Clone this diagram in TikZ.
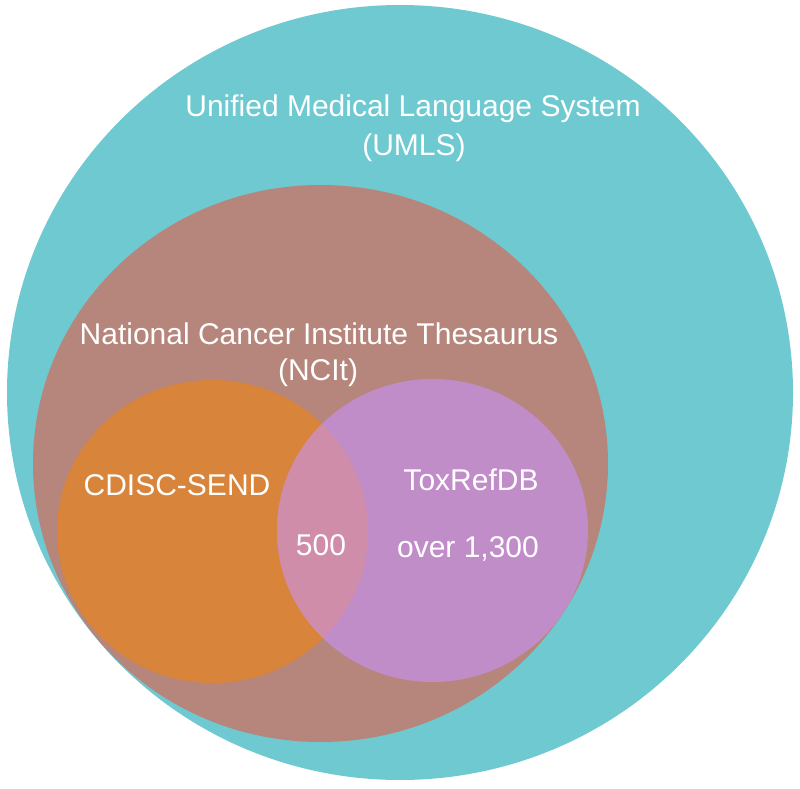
\documentclass[tikz,border=0pt]{standalone}
\usepackage{fontspec}
\setmainfont{Liberation Sans}
\usetikzlibrary{shapes.geometric}
\definecolor{umls}{HTML}{6FC9D1}
\definecolor{ncit}{HTML}{B6857B}
\definecolor{cdisc}{HTML}{D8843A}
\definecolor{toxref}{HTML}{C08DC9}
\definecolor{overlap}{HTML}{CF8DAA}
\tikzset{
  region/.style={ellipse, draw=none, inner sep=0pt, outer sep=0pt},
  lbl/.style={anchor=base, text=white, inner sep=0pt, font=\fontsize{30}{36}\selectfont}
}
\begin{document}
\begin{tikzpicture}[x=1pt, y=-1pt]
\useasboundingbox (0,0) rectangle (800,789);
% regions
\node[region, fill=umls, minimum width=786pt, minimum height=775pt] (umls) at (400,392.5) {};
\node[region, fill=ncit, minimum width=575pt, minimum height=557pt] (ncit) at (320.5,463.5) {};
\node[region, fill=cdisc, minimum width=311pt, minimum height=303pt] (cdisc) at (212.5,531.5) {};
\node[region, fill=toxref, minimum width=311pt, minimum height=303pt] (toxref) at (432.5,530.5) {};
\begin{scope}
  \clip (212.5,531.5) ellipse [x radius=155.5, y radius=151.5];
  \fill[overlap] (432.5,530.5) ellipse [x radius=155.5, y radius=151.5];
\end{scope}
% labels
\node[lbl] (umlsA) at (413,117) {Unified Medical Language System};
\node[lbl] (umlsB) at (414,155) {(UMLS)};
\node[lbl] (ncitA) at (319,344) {National Cancer Institute Thesaurus};
\node[lbl] (ncitB) at (318,380) {(NCIt)};
\node[lbl] (cdiscL) at (177,495) {CDISC-SEND};
\node[lbl] (toxL) at (471,490) {ToxRefDB};
\node[lbl] (shared) at (321,555) {500};
\node[lbl] (toxN) at (468,557) {over 1,300};
\end{tikzpicture}
\end{document}
